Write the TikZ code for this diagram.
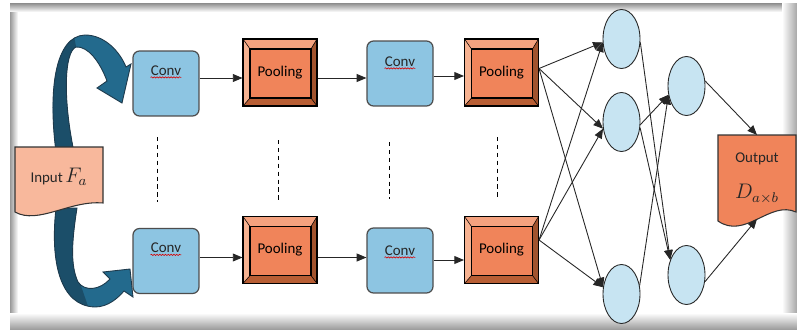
\documentclass[tikz,border=0pt]{standalone}
\usepackage{fontspec}
\setmainfont{Carlito}
\usetikzlibrary{arrows.meta,calc,shapes.geometric,decorations.pathmorphing}
\definecolor{convfill}{HTML}{8DC5E2}
\definecolor{convline}{HTML}{4D4D4D}
\definecolor{poolmid}{HTML}{F0845A}
\definecolor{pooltopc}{HTML}{F4A27F}
\definecolor{poolleftc}{HTML}{F6B291}
\definecolor{poolrightc}{HTML}{A1532E}
\definecolor{poolbotc}{HTML}{B85E34}
\definecolor{circfill}{HTML}{C7E4F2}
\definecolor{infill}{HTML}{F8B89C}
\definecolor{outfill}{HTML}{F0845A}
\definecolor{arrblue}{HTML}{236A8D}
\definecolor{arrdark}{HTML}{1B4E69}
\definecolor{arrline}{HTML}{1E3A4C}
\begin{document}
\begin{tikzpicture}[x=0.02cm,y=-0.02cm,
  lbl/.style={font=\fontsize{8.5}{9}\selectfont, text=black!85, inner sep=0pt},
  convbox/.style={draw=convline, line width=0.7pt, fill=convfill, rounded corners=0.13cm,
    minimum width=1.32cm, minimum height=1.30cm, inner sep=0pt},
  poolbox/.style={draw=black, line width=0.6pt, fill=poolmid, minimum width=1.48cm,
    minimum height=1.34cm, inner sep=0pt, font=\fontsize{8.5}{9}\selectfont,
    path picture={
      \path (path picture bounding box.north west) coordinate (pa)
            (path picture bounding box.north east) coordinate (pb)
            (path picture bounding box.south east) coordinate (pc)
            (path picture bounding box.south west) coordinate (pd);
      \path ($(pa)+(0.14cm,-0.20cm)$) coordinate (pe)
            ($(pb)+(-0.12cm,-0.20cm)$) coordinate (pf)
            ($(pc)+(-0.12cm,0.16cm)$) coordinate (pg)
            ($(pd)+(0.14cm,0.16cm)$) coordinate (ph);
      \fill[poolleftc] (pa) -- (pe) -- (ph) -- (pd) -- cycle;
      \fill[pooltopc] (pa) -- (pb) -- (pf) -- (pe) -- cycle;
      \fill[poolrightc] (pb) -- (pc) -- (pg) -- (pf) -- cycle;
      \fill[poolbotc] (pd) -- (ph) -- (pg) -- (pc) -- cycle;
      \draw[line width=0.3pt] (pa) -- (pe) (pb) -- (pf) (pc) -- (pg) (pd) -- (ph);
      \draw[line width=0.6pt] (pe) rectangle (pg);
    }},
  neuron/.style={ellipse, draw=black!85, line width=0.5pt, fill=circfill,
    minimum width=0.74cm, minimum height=1.18cm, inner sep=0pt},
  arr/.style={-{Triangle[length=5.5pt,width=4.5pt]}, line width=0.5pt, draw=black!85},
  sepline/.style={line width=0.5pt, dash pattern=on 2.5pt off 2pt},
  squig/.style={red!85!black, line width=0.35pt, decorate,
    decoration={snake, amplitude=0.35pt, segment length=1.6pt}},
  arrowout/.style={draw=arrline, line width=0.5pt}
]
\useasboundingbox (0,0) rectangle (797,331);
\fill[white] (0,0) rectangle (797,331);
% frame shadow
\shade[left color=black!40, right color=white] (10,4) rectangle (18,329);
\shade[top color=black!40, bottom color=white] (10,4) rectangle (797,12);
\shade[left color=white, right color=black!35] (782,4) rectangle (797,329);
\shade[top color=white, bottom color=black!38] (10,313) rectangle (797,329);

% curved block arrows
\fill[arrblue] (56,152) .. controls (48,90) and (55,36) .. (85,35) .. controls (105,35) and (120,52) .. (126,67) -- (131,64) -- (122,103) -- (97,88) -- (107,81) .. controls (100,62) and (88,46) .. (76,47) .. controls (64,52) and (63,100) .. (74,152) -- cycle;
\begin{scope}
\clip (56,152) .. controls (48,90) and (55,36) .. (85,35) .. controls (105,35) and (120,52) .. (126,67) -- (131,64) -- (122,103) -- (97,88) -- (107,81) .. controls (100,62) and (88,46) .. (76,47) .. controls (64,52) and (63,100) .. (74,152) -- cycle;
\fill[arrdark] (30,25) -- (72,25) -- (77,52) -- (80,160) -- (30,160) -- cycle;
\end{scope}
\draw[arrowout] (56,152) .. controls (48,90) and (55,36) .. (85,35) .. controls (105,35) and (120,52) .. (126,67) -- (131,64) -- (122,103) -- (97,88) -- (107,81) .. controls (100,62) and (88,46) .. (76,47) .. controls (64,52) and (63,100) .. (74,152) -- cycle;

\fill[arrblue] (56,208) .. controls (50,262) and (60,306) .. (95,307) .. controls (108,307) and (118,298) .. (124,291) -- (133,297) -- (130,269) -- (103,272) -- (110,279) .. controls (100,290) and (85,292) .. (78,282) .. controls (70,265) and (72,240) .. (77,208) -- cycle;
\begin{scope}
\clip (56,208) .. controls (50,262) and (60,306) .. (95,307) .. controls (108,307) and (118,298) .. (124,291) -- (133,297) -- (130,269) -- (103,272) -- (110,279) .. controls (100,290) and (85,292) .. (78,282) .. controls (70,265) and (72,240) .. (77,208) -- cycle;
\fill[arrdark] (30,200) -- (80,200) -- (80,283) -- (90,312) -- (30,312) -- cycle;
\end{scope}
\draw[arrowout] (56,208) .. controls (50,262) and (60,306) .. (95,307) .. controls (108,307) and (118,298) .. (124,291) -- (133,297) -- (130,269) -- (103,272) -- (110,279) .. controls (100,290) and (85,292) .. (78,282) .. controls (70,265) and (72,240) .. (77,208) -- cycle;

% input document
\draw[fill=infill, draw=black!80, line width=0.6pt] (15,147) -- (103,147) -- (103,203) .. controls (70,200) and (38,225) .. (15,212) -- cycle;
\node[lbl] (in) at (59,177) {Input\,{\fontsize{12}{12}\selectfont$F_a$}};

% conv / pooling nodes
\node[convbox] (c1) at (166,83.5) {};
\node[convbox] (c1b) at (166,261) {};
\node[poolbox] (p1) at (280,72.5) {Pooling};
\node[poolbox] (p1b) at (280,250) {Pooling};
\node[convbox] (c2) at (400,73.5) {};
\node[convbox] (c2b) at (400,260.5) {};
\node[poolbox] (p2) at (501.5,72.5) {Pooling};
\node[poolbox] (p2b) at (501.5,250) {Pooling};

\node[lbl, anchor=base] (c1t) at ($(c1.north)+(0,25)$) {Conv};
\node[lbl, anchor=base] (c1bt) at ($(c1b.north)+(0,25)$) {Conv};
\node[lbl, anchor=base] (c2t) at ($(c2.north)+(0,26)$) {Conv};
\node[lbl, anchor=base] (c2bt) at ($(c2b.north)+(0,28)$) {Conv};
\foreach \t in {c1t,c1bt,c2t,c2bt}
  \draw[squig] ($(\t.base west)+(0,2)$) -- ($(\t.base east)+(0,2)$);

% row arrows
\coordinate (r1) at (0,78);
\coordinate (r2) at (0,76);
\coordinate (r3) at (0,257.5);
\coordinate (r4) at (0,260);
\draw[arr] (c1.east |- r1) -- (p1.west |- r1);
\draw[arr] (p1.east |- r1) -- (c2.west |- r1);
\draw[arr] (c2.east |- r2) -- (p2.west |- r2);
\draw[arr] (c1b.east |- r3) -- (p1b.west |- r3);
\draw[arr] (p1b.east |- r3) -- (c2b.west |- r3);
\draw[arr] (c2b.east |- r4) -- (p2b.west |- r4);

% dashed separators
\coordinate (d1a) at (157,137); \coordinate (d1b) at (157,202);
\coordinate (d2a) at (278,140); \coordinate (d2b) at (278,200);
\coordinate (d3a) at (389,142); \coordinate (d3b) at (389,199);
\coordinate (d4a) at (497,137); \coordinate (d4b) at (497,198);
\draw[sepline] (d1a) -- (d1b);
\draw[sepline] (d2a) -- (d2b);
\draw[sepline] (d3a) -- (d3b);
\draw[sepline] (d4a) -- (d4b);

% neurons
\node[neuron] (l1a) at (621.5,39) {};
\node[neuron] (l1b) at (621.5,122) {};
\node[neuron] (l1c) at (621.5,294) {};
\node[neuron] (l2a) at (686.5,86) {};
\node[neuron] (l2b) at (686.5,275) {};

% output document
\draw[fill=outfill, draw=black!80, line width=0.6pt] (718,135) -- (796,135) -- (796,212) .. controls (770,200) and (745,240) .. (718,221) -- cycle;
\node[lbl] (outl) at (757,159) {Output};
\node[lbl] (outd) at (757,194) {\fontsize{12}{12}\selectfont$D_{a\times b}$};
\coordinate (outtop) at (757,135);
\coordinate (outbot) at (757,219);

% fully connected arrows
\coordinate (s1) at ($(p2.east)+(0,-4)$);
\coordinate (s2) at ($(p2b.east)+(0,-10)$);
\foreach \s in {s1,s2} {
  \draw[arr] (\s) -- (l1a.190);
  \draw[arr] (\s) -- (l1b.200);
  \draw[arr] (\s) -- (l1c.160);
}
\draw[arr] (l1a.350) -- (l2b.137);
\draw[arr] (l1b.352) -- (l2a.206);
\draw[arr] (l1b.343) -- (l2b.137);
\draw[arr] (l1c.25) -- (l2a.206);
\draw[arr] (l2a.15) -- (outtop);
\draw[arr] (l2b.340) -- (outbot);
\end{tikzpicture}
\end{document}
